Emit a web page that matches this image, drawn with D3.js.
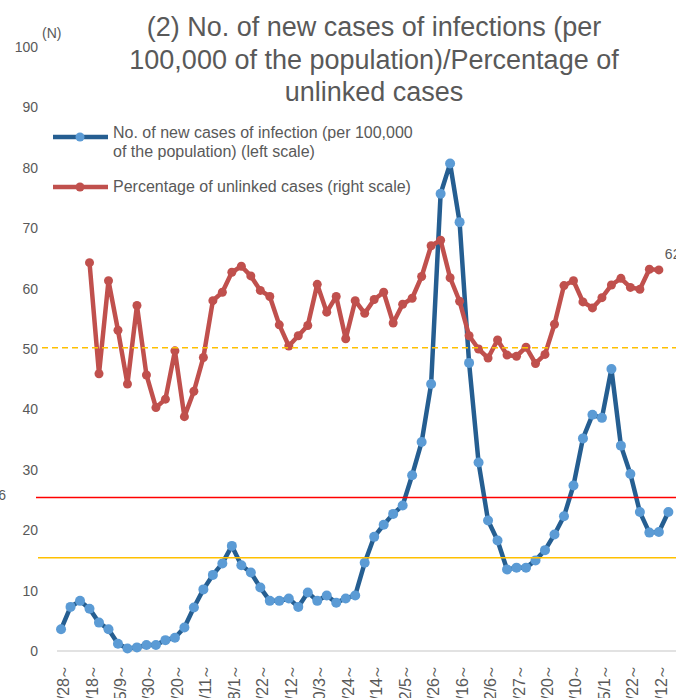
<!DOCTYPE html>
<html>
<head>
<meta charset="utf-8">
<script src="https://cdn.jsdelivr.net/npm/d3@7"></script>
<style>
  html, body { margin: 0; padding: 0; background: #fff; overflow: hidden; }
  svg { display: block; font-family: "Liberation Sans", Arial, sans-serif; }
</style>
</head>
<body>
<svg id="chart" width="676" height="698"></svg>
<script>
// ---------- data ----------
const weeks = ["3/28","4/4","4/11","4/18","4/25","5/2","5/9","5/16","5/23","5/30",
  "6/6","6/13","6/20","6/27","7/4","7/11","7/18","7/25","8/1","8/8",
  "8/15","8/22","8/29","9/5","9/12","9/19","9/26","10/3","10/10","10/17",
  "10/24","10/31","11/7","11/14","11/21","11/28","12/5","12/12","12/19","12/26",
  "1/2","1/9","1/16","1/23","1/30","2/6","2/13","2/20","2/27","3/6",
  "3/13","3/20","3/27","4/3","4/10","4/17","4/24","5/1","5/8","5/15",
  "5/22","5/29","6/5","6/12","6/19"];

const shownWeekLabels = ["3/28","4/18","5/9","5/30","6/20","7/11","8/1","8/22","9/12","10/3",
  "10/24","11/14","12/5","12/26","1/16","2/6","2/27","3/20","4/10","5/1","5/22","6/12"];

const newCases = [3.6,7.3,8.3,7.0,4.7,3.6,1.2,0.4,0.6,1.0,
  1.0,1.8,2.2,3.9,7.2,10.2,12.6,14.5,17.4,14.2,
  13.0,10.5,8.3,8.3,8.7,7.3,9.7,8.3,9.2,8.0,
  8.7,9.2,14.6,18.9,20.9,22.7,24.1,29.1,34.6,44.2,
  75.7,80.7,71.0,47.7,31.2,21.6,18.3,13.5,13.8,13.8,
  15.0,16.7,19.3,22.3,27.4,35.2,39.1,38.6,46.7,34.0,
  29.3,23.0,19.6,19.7,23.0];

const unlinkedPct = [null,null,null,64.3,45.9,61.3,53.1,44.2,57.2,45.7,
  40.3,41.7,49.7,38.8,43.0,48.6,58.0,59.4,62.7,63.7,
  62.1,59.7,58.7,54.0,50.5,52.2,53.9,60.7,56.1,58.7,
  51.7,58.0,55.9,58.2,59.4,54.3,57.4,58.4,62.0,67.1,
  68.0,61.8,57.9,52.2,50.0,48.5,51.5,49.0,48.8,50.3,
  47.6,49.1,54.1,60.5,61.3,57.8,56.8,58.5,60.6,61.7,
  60.2,59.9,63.2,63.1,null];

const yTicks = [0,10,20,30,40,50,60,70,80,90,100];
const refLines = [
  {value: 50.2, color: "#ffc000", dash: "6,4", x0: 42},
  {value: 25.4, color: "#ff0000", dash: null, x0: 36},
  {value: 15.45, color: "#ffc000", dash: null, x0: 38}
];
const refLabel = {value: 25.6, text: "25.6"};
const lastPctLabel = "62.8";

const titleLines = ["(2) No. of new cases of infections (per",
  "100,000 of the population)/Percentage of",
  "unlinked cases"];
const legendItems = [
  {lines: ["No. of new cases of infection (per 100,000", "of the population) (left scale)"], line: "#255e91", dot: "#5b9bd5"},
  {lines: ["Percentage of unlinked cases (right scale)"], line: "#c0504d", dot: "#c0504d"}
];

// ---------- chart ----------
const svg = d3.select("#chart");
const textColor = "#595959";

const x = d3.scaleBand().domain(weeks).range([56.3, 673.1]);
const cx = d => x(d) + x.bandwidth() / 2;
const y = d3.scaleLinear().domain([0, 100]).range([651, 47]);

// title
const title = svg.append("text")
  .attr("text-anchor", "middle")
  .attr("fill", textColor)
  .style("font-size", "27px");
titleLines.forEach((t, i) => {
  title.append("tspan").attr("x", 374).attr("y", 36 + i * 32.5).text(t);
});

// y axis
const yAxis = d3.axisLeft(y).tickValues(yTicks).tickSize(0).tickPadding(6);
const gy = svg.append("g").attr("transform", "translate(44,0)").call(yAxis);
gy.select(".domain").remove();
gy.selectAll("text").attr("fill", textColor).style("font-size", "14px")
  .style("font-family", "'Liberation Sans', Arial, sans-serif");

svg.append("text").attr("x", 42).attr("y", 38).attr("fill", textColor)
  .style("font-size", "14px").text("(N)");

// x axis baseline
svg.append("line")
  .attr("x1", 57).attr("x2", 676)
  .attr("y1", y(0)).attr("y2", y(0))
  .attr("stroke", "#d9d9d9").attr("stroke-width", 1.5);

// x labels
const xl = svg.append("g").selectAll("text")
  .data(shownWeekLabels)
  .join("text")
  .attr("transform", d => `translate(${cx(d) + 2},664) rotate(-90)`)
  .attr("text-anchor", "end")
  .attr("dominant-baseline", "central")
  .attr("fill", textColor)
  .style("font-size", "16px");
xl.append("tspan").text(d => d);
xl.append("tspan").attr("dx", -2).text("～");

// series: new cases
const blueLine = d3.line().x((d, i) => cx(weeks[i])).y(d => y(d));
svg.append("path")
  .datum(newCases)
  .attr("d", blueLine)
  .attr("fill", "none")
  .attr("stroke", "#255e91")
  .attr("stroke-width", 4.5)
  .attr("stroke-linejoin", "round");
svg.append("g").selectAll("circle")
  .data(newCases)
  .join("circle")
  .attr("cx", (d, i) => cx(weeks[i]))
  .attr("cy", d => y(d))
  .attr("r", 5)
  .attr("fill", "#5b9bd5");

// series: unlinked percentage
const redLine = d3.line()
  .defined(d => d != null)
  .x((d, i) => cx(weeks[i])).y(d => y(d));
svg.append("path")
  .datum(unlinkedPct)
  .attr("d", redLine)
  .attr("fill", "none")
  .attr("stroke", "#c0504d")
  .attr("stroke-width", 4.5)
  .attr("stroke-linejoin", "round");
svg.append("g").selectAll("circle")
  .data(unlinkedPct.map((v, i) => ({v, i})).filter(d => d.v != null))
  .join("circle")
  .attr("cx", d => cx(weeks[d.i]))
  .attr("cy", d => y(d.v))
  .attr("r", 4.5)
  .attr("fill", "#c0504d");

// last data label
const lastIdx = unlinkedPct.map((v, i) => v != null ? i : -1).filter(i => i >= 0).pop();
svg.append("text")
  .attr("x", cx(weeks[lastIdx]) + 6)
  .attr("y", y(unlinkedPct[lastIdx]) - 11)
  .attr("fill", textColor)
  .style("font-size", "14px")
  .text(lastPctLabel);

// reference lines
refLines.forEach(r => {
  svg.append("line")
    .attr("x1", r.x0).attr("x2", 676)
    .attr("y1", y(r.value)).attr("y2", y(r.value))
    .attr("stroke", r.color).attr("stroke-width", 1.5)
    .attr("stroke-dasharray", r.dash);
});
svg.append("text")
  .attr("x", 6).attr("y", y(refLabel.value) + 4)
  .attr("text-anchor", "end")
  .attr("fill", textColor)
  .style("font-size", "14px")
  .text(refLabel.text);

// legend
const lg = svg.append("g");
const legendRows = [137, 187];
const legendBaselines = [[138, 157], [192]];
legendItems.forEach((it, k) => {
  const yy = legendRows[k];
  lg.append("line").attr("x1", 53).attr("x2", 108).attr("y1", yy).attr("y2", yy)
    .attr("stroke", it.line).attr("stroke-width", 4.5);
  lg.append("circle").attr("cx", 80).attr("cy", yy).attr("r", 4.5).attr("fill", it.dot);
  const t = lg.append("text").attr("fill", textColor).style("font-size", "16px");
  it.lines.forEach((s, j) => {
    t.append("tspan").attr("x", 113).attr("y", legendBaselines[k][j]).text(s);
  });
});
</script>
</body>
</html>
